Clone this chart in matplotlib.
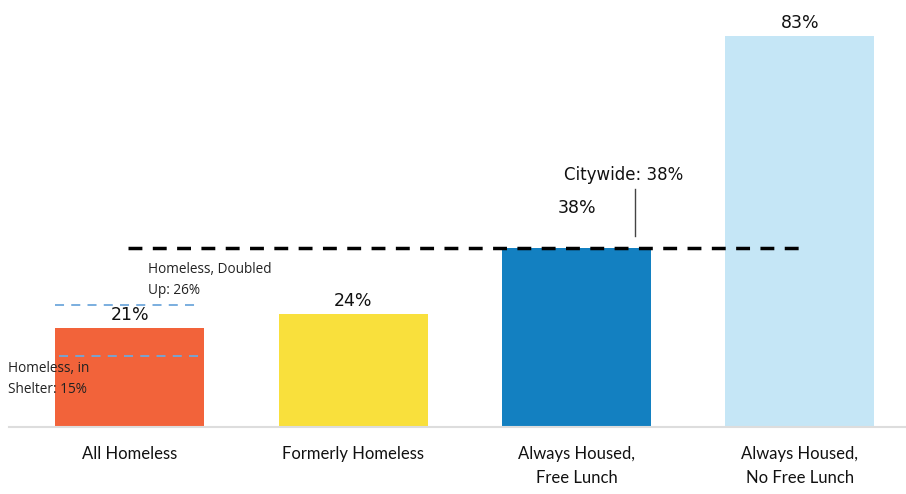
import matplotlib.pyplot as plt

categories = ["All Homeless", "Formerly Homeless", "Always Housed,\nFree Lunch",
              "Always Housed,\nNo Free Lunch"]
values = [21, 24, 38, 83]
colors = ["#F2633A", "#F9E03C", "#1380C1", "#C5E6F6"]

citywide = 38
sub_values = [26, 15]   # doubled up, in shelter
sub_labels = ["Homeless, Doubled\nUp: 26%", "Homeless, in\nShelter: 15%"]

fig = plt.figure(figsize=(9.06, 4.94), dpi=100)
ax = fig.add_axes([0, 0.1356, 1, 0.858])
x = list(range(len(values)))

ax.bar(x, values, width=0.667, color=colors, zorder=2)
ax.set_xlim(-0.582, 3.475)
ax.set_ylim(0, 90)

# value labels (the 38% bar label sits higher to clear the citywide line)
for i, v in enumerate(values):
    off = 6.5 if i == 2 else 0.8
    ax.text(i, v + off, f"{v}%", ha="center", va="bottom", fontsize=12.5,
            family="DejaVu Sans", color="#111111")

# citywide reference line
ax.plot([-0.007, 3.016], [citywide, citywide], ls=(0, (4, 3)), lw=2.5,
        color="black", zorder=3)
ax.plot([2.262, 2.262], [citywide + 2.5, citywide + 12.5], color="#444444", lw=1)
ax.text(2.21, citywide + 13.5, f"Citywide: {citywide}%", ha="center", va="bottom",
        fontsize=12, family="DejaVu Sans", color="#111111")

# homeless sub-group lines
ax.plot([-0.335, 0.29], [sub_values[0], sub_values[0]], ls=(0, (5, 4)), lw=1.3,
        color="#6FA8DC", zorder=3)
ax.plot([-0.32, 0.31], [sub_values[1], sub_values[1]], ls=(0, (5, 4)), lw=1.3,
        color="#6FA8DC", zorder=3)
ax.text(0.08, 27.3, sub_labels[0], ha="left", va="bottom", fontsize=9.8,
        family="Open Sans", color="#222222", linespacing=1.55)
ax.text(-0.545, 6.3, sub_labels[1], ha="left", va="bottom", fontsize=9.8,
        family="Open Sans", color="#222222", linespacing=1.55)

ax.set_xticks(x)
ax.set_xticklabels(categories, fontsize=12, family="Lato", color="#111111",
                   linespacing=1.6)
ax.tick_params(axis="x", length=0, pad=14)
ax.set_yticks([])
for s in ["top", "right", "left"]:
    ax.spines[s].set_visible(False)
ax.spines["bottom"].set_color("#dddddd")
ax.spines["bottom"].set_linewidth(1.5)
ax.spines["bottom"].set_bounds(-0.54, 3.475)

fig.savefig("out.png", dpi=100)
